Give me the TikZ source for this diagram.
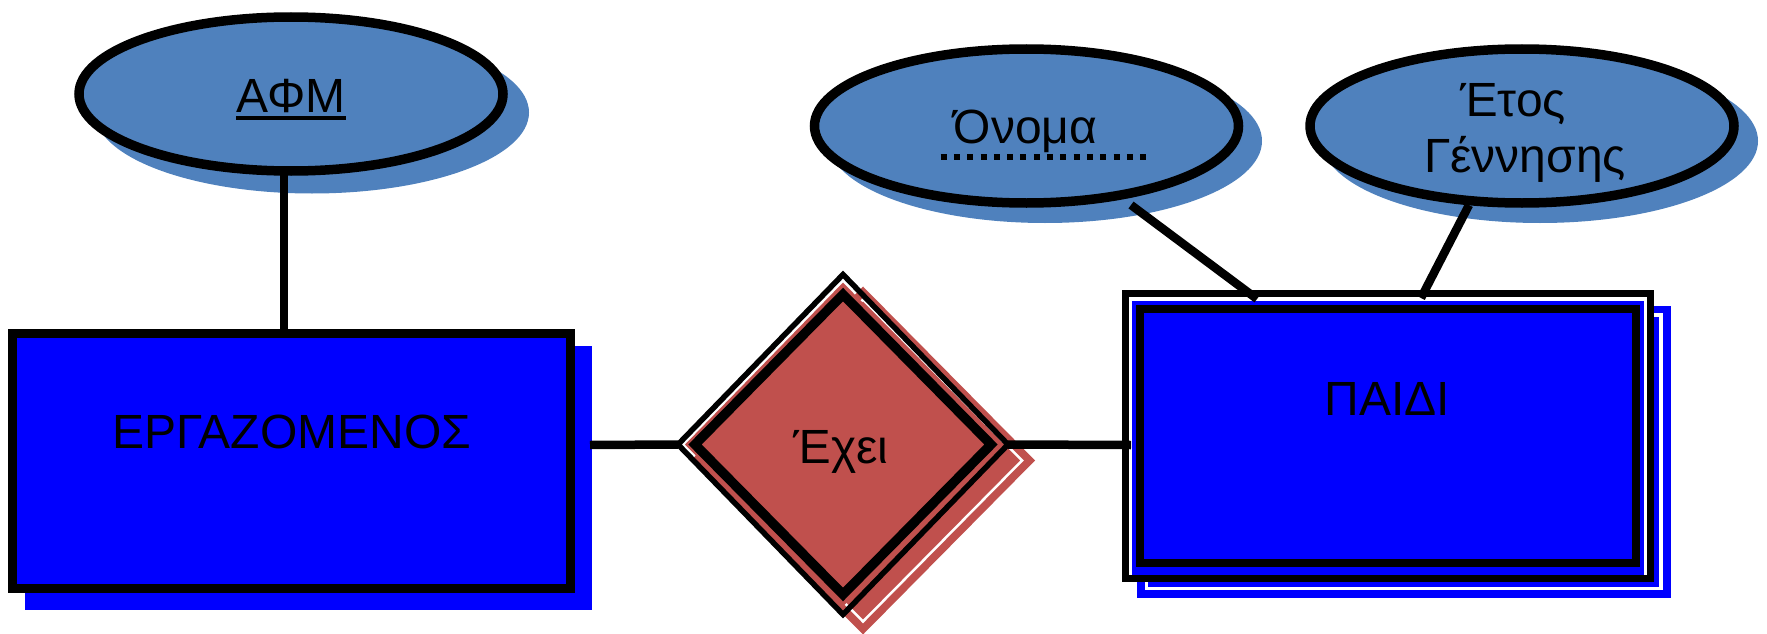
\documentclass[tikz,border=0pt]{standalone}
\usepackage{fontspec}
\setmainfont{Liberation Sans}
\usetikzlibrary{shapes.geometric,calc}
\definecolor{ellblue}{HTML}{4F81BD}
\definecolor{entblue}{HTML}{0000FF}
\definecolor{relred}{HTML}{C0504D}
\begin{document}
\begin{tikzpicture}[x=1pt,y=-1pt,
  txt/.style={font=\fontsize{48}{56}\selectfont, inner sep=0pt, anchor=base},
  attr/.style={ellipse, fill=ellblue, draw=black, line width=9.5pt, inner sep=0pt, outer sep=0pt},
  attrshadow/.style={ellipse, fill=ellblue, inner sep=0pt, outer sep=0pt},
  box/.style={rectangle, inner sep=0pt, outer sep=0pt},
  dia/.style={diamond, inner sep=0pt, outer sep=0pt},
  conn/.style={draw=black, line width=8.5pt},
]
\useasboundingbox (0,0) rectangle (1767,634);

% ---- attribute AFM
\node[attrshadow, minimum width=434pt, minimum height=162pt] (afmsh) at (312,112.5) {};
\node[attr, minimum width=424pt, minimum height=154pt] (afm) at (291,94) {};
\node[txt] (afmtxt) at (291,112.5) {ΑΦΜ};
\draw[line width=4pt] ([yshift=-5pt]afmtxt.base west) -- ([yshift=-5pt]afmtxt.base east);

% ---- attribute Onoma
\node[attrshadow, minimum width=434pt, minimum height=164pt] (onsh) at (1045,141) {};
\node[attr, minimum width=424pt, minimum height=154pt] (onoma) at (1026.5,126) {};
\node[txt] (ontxt) at (1025.5,143.5) {Όνομα};
\draw[line width=6pt, dash pattern=on 6pt off 7.3pt] ($(ontxt.base west)+(-13,13.5)$) -- ($(ontxt.base east)+(49,13.5)$);

% ---- attribute Etos Gennisis
\node[attrshadow, minimum width=436pt, minimum height=164pt] (etsh) at (1540,141) {};
\node[attr, minimum width=424pt, minimum height=154pt] (etos) at (1522,126) {};
\node[txt] (ettxt1) at (1513,116) {Έτος};
\node[txt] (ettxt2) at (1525,172) {Γέννησης};

% ---- entity ERGAZOMENOS
\node[box, fill=entblue, minimum width=567pt, minimum height=264pt] (ergsh) at (308.5,477.5) {};
\node[box, fill=entblue, draw=black, line width=9pt, minimum width=558pt, minimum height=255pt] (erg) at (291.5,461) {};
\node[txt] (ergtxt) at (292,448) {ΕΡΓΑΖΟΜΕΝΟΣ};

% ---- relationship Exei
\node[dia, fill=relred, minimum width=344pt, minimum height=348pt] (relsh) at (863,460.5) {};
\node[dia, draw=white, line width=2.5pt, minimum width=318pt, minimum height=322pt] (relshline) at (863,460.5) {};
\node[dia, draw=black, line width=5.5pt, minimum width=330pt, minimum height=340pt] (rel) at (843,444.5) {};
\node[dia, fill=relred, minimum width=316pt, minimum height=324pt] (relfill) at (843,444.5) {};
\node[dia, draw=black, line width=9.5pt, minimum width=296pt, minimum height=300pt] (relin) at (843,444.5) {};
\node[txt] (reltxt) at (841,463) {Έχει};

% ---- weak entity PAIDI
\node[box, fill=entblue, minimum width=534pt, minimum height=292pt] (paidish) at (1404,452) {};
\node[box, draw=white, line width=3.5pt, minimum width=514.5pt, minimum height=273.5pt] (paidishline) at (1403.75,451.75) {};
\node[box, fill=white, draw=black, line width=7pt, minimum width=525pt, minimum height=285pt] (paidi) at (1388,436) {};
\node[box, fill=entblue, minimum width=512pt, minimum height=274.3pt] (paidifill) at (1388,437.85) {};
\node[box, draw=black, line width=8pt, minimum width=496pt, minimum height=254pt] (paidiin) at (1388,436) {};
\node[txt] (paiditxt) at (1387.5,415) {ΠΑΙΔΙ};

% ---- connectors
\coordinate (afmfoot) at (284,172);
\coordinate (ergtop) at (284,330);
\coordinate (ergright) at (590,445);
\coordinate (paidileft) at (1131,445);
\coordinate (onfoot) at (1131,205);
\coordinate (paiditopA) at (1257,299);
\coordinate (etfoot) at (1469,205);
\coordinate (paiditopB) at (1421,298);
\draw[conn] (afmfoot) -- (ergtop);
\draw[conn] (ergright) -- (rel.west);
\draw[conn] (rel.east) -- (paidileft);
\draw[conn] (onfoot) -- (paiditopA);
\draw[conn] (etfoot) -- (paiditopB);
\end{tikzpicture}
\end{document}
